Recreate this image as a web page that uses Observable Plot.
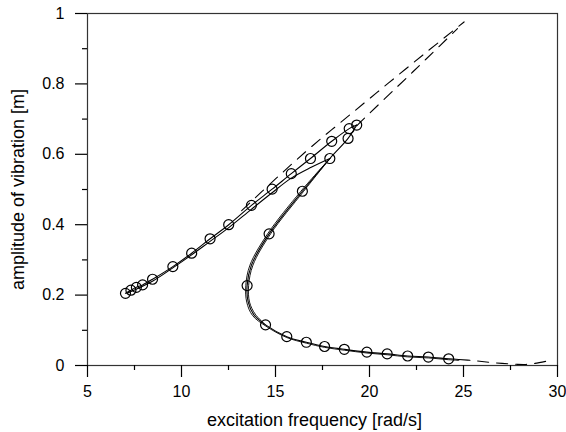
<!DOCTYPE html>
<html>
<head>
<meta charset="utf-8">
<script src="https://cdn.jsdelivr.net/npm/d3@7"></script>
<script src="https://cdn.jsdelivr.net/npm/@observablehq/plot@0.6"></script>
<style>
  html, body { margin: 0; padding: 0; background: #fff; }
</style>
</head>
<body>
<div id="chart"></div>
<script>
// tick values
const xMajor = [5, 10, 15, 20, 25, 30];
const xMinor = [7.5, 12.5, 17.5, 22.5, 27.5];
const yMajor = [0, 0.2, 0.4, 0.6, 0.8, 1];
const yMinor = [0.1, 0.3, 0.5, 0.7, 0.9];

// upper branch (solid, with circles)
const upFreq = [7.02, 7.31, 7.60, 7.93, 8.46, 9.54, 10.54, 11.52, 12.51, 13.72, 14.82, 15.84, 16.86, 17.99, 18.92, 19.32];
const upAmp  = [0.205, 0.214, 0.222, 0.229, 0.245, 0.281, 0.319, 0.360, 0.400, 0.455, 0.501, 0.545, 0.588, 0.637, 0.673, 0.683];

// second upper branch (solid, no circles)
const up2Freq = [7.10, 8.50, 9.50, 10.50, 11.50, 12.50, 13.70, 14.80, 15.80, 16.90, 17.89];
const up2Amp  = [0.205, 0.241, 0.276, 0.313, 0.352, 0.391, 0.443, 0.490, 0.531, 0.563, 0.588];

// S-shaped branch + lower branch (solid line)
const sFreq = [19.32, 18.86, 17.89, 16.43, 14.66, 13.72, 13.49, 13.55, 13.85, 14.47, 15.60, 16.64, 17.61, 18.66, 19.86, 20.94, 22.03, 23.13, 24.21, 24.75];
const sAmp  = [0.683, 0.645, 0.588, 0.495, 0.374, 0.285, 0.227, 0.180, 0.144, 0.1155, 0.082, 0.066, 0.054, 0.046, 0.038, 0.033, 0.027, 0.024, 0.019, 0.017];

// circles on S / lower branch
const sDotFreq = [18.86, 17.89, 16.43, 14.66, 13.49, 14.47, 15.60, 16.64, 17.61, 18.66, 19.86, 20.94, 22.03, 23.13, 24.21];
const sDotAmp  = [0.645, 0.588, 0.495, 0.374, 0.227, 0.1155, 0.082, 0.066, 0.054, 0.046, 0.038, 0.033, 0.027, 0.024, 0.019];

// neighbouring thin curves along the S branch
const s2Freq = [17.89, 16.35, 14.58, 13.64, 13.42, 13.47, 13.78, 14.47, 15.60, 16.64, 17.61, 18.66, 19.86, 20.94, 22.03, 23.13, 24.21, 24.75];
const s2Amp  = [0.588, 0.495, 0.374, 0.285, 0.227, 0.180, 0.142, 0.1125, 0.0795, 0.0635, 0.0515, 0.0435, 0.0355, 0.0305, 0.0245, 0.0215, 0.0165, 0.0145];
const s3Freq = [17.89, 16.50, 14.74, 13.80, 13.57, 13.62, 13.92, 14.47];
const s3Amp  = [0.588, 0.495, 0.374, 0.285, 0.227, 0.180, 0.146, 0.1155];

// dashed curves
const d1Freq = [13.20, 15.00, 16.90, 19.00, 21.00, 23.00, 25.03];
const d1Amp  = [0.440, 0.530, 0.621, 0.714, 0.802, 0.889, 0.976];
const d2Freq = [19.32, 19.72, 21.50, 23.00, 24.68];
const d2Amp  = [0.681, 0.702, 0.793, 0.870, 0.957];
const d3Freq = [24.75, 25.50, 26.60, 27.80, 28.30, 28.80, 29.40];
const d3Amp  = [0.017, 0.014, 0.008, 0.0035, 0.003, 0.006, 0.012];

const xTitle = "excitation frequency [rad/s]";
const yTitle = "amplitude of vibration [m]";

const toRows = (xs, ys) => xs.map((x, i) => ({x, y: ys[i]}));

const lineOpts = {x: "x", y: "y", stroke: "#000", strokeWidth: 1.1, curve: "catmull-rom"};
const dashOpts = {...lineOpts, strokeDasharray: "11,8"};
const dotOpts = {x: "x", y: "y", r: 5, stroke: "#000", strokeWidth: 1.2, fill: "none"};

const chart = Plot.plot({
  width: 566,
  height: 432,
  marginLeft: 87,
  marginRight: 9,
  marginTop: 13,
  marginBottom: 67,
  x: {domain: [5, 30]},
  y: {domain: [0, 1]},
  style: {fontFamily: "'Liberation Sans', Arial, sans-serif", fontSize: "16px", background: "#fff", color: "#000"},
  marks: [
    Plot.frame({stroke: "#333", strokeWidth: 1.2}),
    Plot.axisX({ticks: xMajor, tickSize: 12, tickPadding: 8, label: null, fontSize: 16, strokeWidth: 1.2}),
    Plot.axisX({ticks: xMinor, tickSize: 5, tickFormat: () => "", label: null, strokeWidth: 1.2}),
    Plot.axisY({ticks: yMajor, tickSize: 12, tickPadding: 11, label: null, fontSize: 16, tickFormat: d => String(d), strokeWidth: 1.2}),
    Plot.axisY({ticks: yMinor, tickSize: 5, tickFormat: () => "", label: null, strokeWidth: 1.2}),
    Plot.line(toRows(d1Freq, d1Amp), dashOpts),
    Plot.line(toRows(d2Freq, d2Amp), dashOpts),
    Plot.line(toRows(d3Freq, d3Amp), dashOpts),
    Plot.line(toRows(up2Freq, up2Amp), lineOpts),
    Plot.line(toRows(s2Freq, s2Amp), {...lineOpts, strokeWidth: 0.9}),
    Plot.line(toRows(s3Freq, s3Amp), {...lineOpts, strokeWidth: 0.9}),
    Plot.line(toRows(sFreq, sAmp), lineOpts),
    Plot.line(toRows(upFreq, upAmp), lineOpts),
    Plot.dot(toRows(upFreq, upAmp), dotOpts),
    Plot.dot(toRows(sDotFreq, sDotAmp), dotOpts),
    Plot.text([xTitle], {frameAnchor: "bottom", textAnchor: "middle", lineAnchor: "middle", dy: 55, dx: -8, fontSize: 18, fill: "#000"}),
    Plot.text([yTitle], {frameAnchor: "left", textAnchor: "middle", lineAnchor: "middle", rotate: -90, dx: -69, fontSize: 18, fill: "#000"})
  ]
});
document.getElementById("chart").appendChild(chart);
</script>
</body>
</html>
